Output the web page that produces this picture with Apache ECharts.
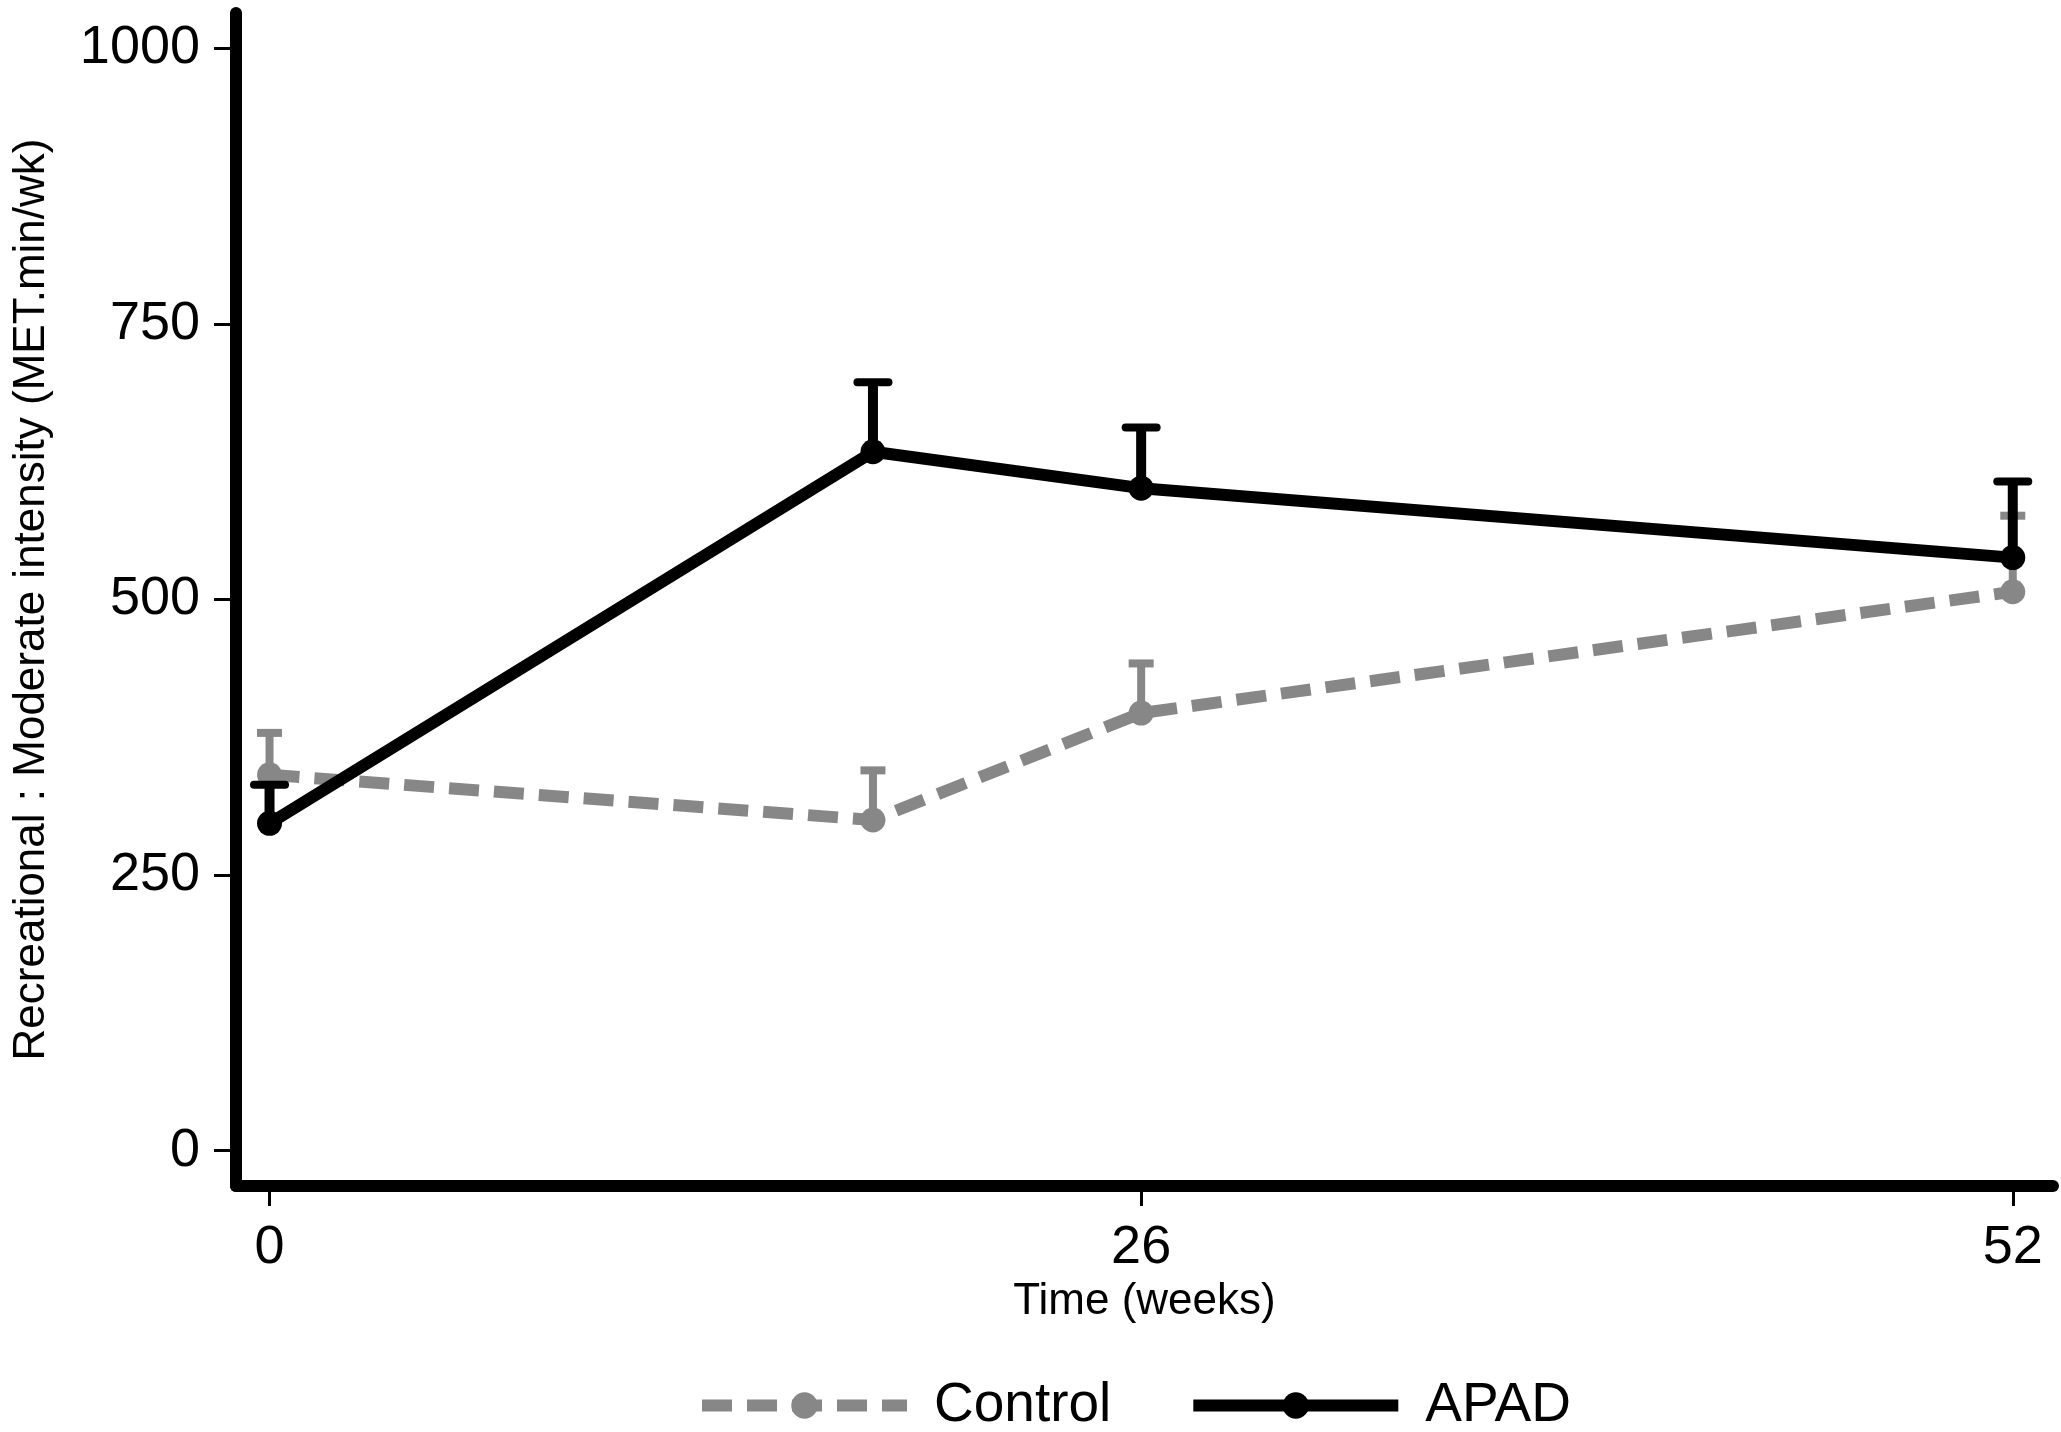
<!DOCTYPE html>
<html>
<head>
<meta charset="utf-8">
<script src="https://cdn.jsdelivr.net/npm/echarts@6/dist/echarts.min.js"></script>
<style>
html,body{margin:0;padding:0;background:#fff;}
#chart{width:2061px;height:1432px;}
</style>
</head>
<body>
<div id="chart"></div>
<script>
var weeks = [0, 18, 26, 52];
var apadMean = [297, 634, 601, 538];
var apadUpper = [332, 697, 656, 607];
var controlMean = [341, 300, 397, 507];
var controlUpper = [379, 345, 442, 576];
var xTicks = [0, 26, 52];
var yTicks = [0, 250, 500, 750, 1000];

var GRAY = '#878787';
var FONT = '"Liberation Sans", Arial, Helvetica, sans-serif';

function pairs(xs, ys) { return xs.map(function (x, i) { return [x, ys[i]]; }); }
function triples(xs, a, b) { return xs.map(function (x, i) { return [x, a[i], b[i]]; }); }

function errRender(color, stemW, capW, capH, capStyle) {
  return function (params, api) {
    var x = api.value(0);
    var lo = api.coord([x, api.value(1)]);
    var hi = api.coord([x, api.value(2)]);
    return {
      type: 'group',
      children: [
        { type: 'line', shape: { x1: lo[0], y1: lo[1], x2: hi[0], y2: hi[1] },
          style: { stroke: color, lineWidth: stemW } },
        { type: 'line', shape: { x1: hi[0] - capW / 2, y1: hi[1], x2: hi[0] + capW / 2, y2: hi[1] },
          style: { stroke: color, lineWidth: capH, lineCap: capStyle } }
      ]
    };
  };
}

var chart = echarts.init(document.getElementById('chart'));
chart.setOption({
  animation: false,
  backgroundColor: '#fff',
  textStyle: { fontFamily: FONT },
  grid: { left: 236, right: 8, top: 13, bottom: 246, containLabel: false },
  xAxis: {
    type: 'value', min: -1, max: 53.2,
    name: 'Time (weeks)', nameLocation: 'middle', nameGap: 91,
    nameTextStyle: { fontSize: 44, color: '#000', fontFamily: FONT },
    axisLine: { show: true, onZero: false, lineStyle: { color: '#000', width: 12 } },
    axisTick: { show: true, customValues: xTicks, length: 20, lineStyle: { color: '#000', width: 3 } },
    axisLabel: { customValues: xTicks, fontSize: 54, color: '#000', margin: 35, fontFamily: FONT,
      formatter: function (v) { return String(v); } },
    splitLine: { show: false }
  },
  yAxis: {
    type: 'value', min: -32, max: 1032,
    name: 'Recreational : Moderate intensity (MET.min/wk)', nameLocation: 'middle', nameGap: 182,
    nameTextStyle: { fontSize: 44, color: '#000', fontFamily: FONT },
    axisLine: { show: true, onZero: false, lineStyle: { color: '#000', width: 12 } },
    axisTick: { show: true, customValues: yTicks, length: 22, lineStyle: { color: '#000', width: 3 } },
    axisLabel: { customValues: yTicks, fontSize: 54, color: '#000', margin: 36, fontFamily: FONT,
      formatter: function (v) { return String(v); } },
    splitLine: { show: false }
  },
  legend: {
    bottom: -6, left: 691,
    itemWidth: 205, itemHeight: 33, itemGap: 76,
    textStyle: { fontSize: 55, color: '#000', fontFamily: FONT, padding: [0, 0, 0, 22] },
    data: [
      { name: 'Control', itemStyle: { color: GRAY }, lineStyle: { color: GRAY, width: 12, type: [30, 15] } },
      { name: 'APAD', itemStyle: { color: '#000' }, lineStyle: { color: '#000', width: 12, type: 'solid' } }
    ]
  },
  series: [
    {
      name: 'Control', type: 'line', data: pairs(weeks, controlMean), z: 2,
      symbol: 'circle', symbolSize: 25,
      lineStyle: { color: GRAY, width: 12, type: [30, 15] },
      itemStyle: { color: GRAY }
    },
    {
      name: 'Control', type: 'custom', data: triples(weeks, controlMean, controlUpper), z: 3,
      renderItem: errRender(GRAY, 8, 25, 8, 'butt'), encode: { x: 0, y: [1, 2] }, tooltip: { show: false }
    },
    {
      name: 'APAD', type: 'line', data: pairs(weeks, apadMean), z: 4,
      symbol: 'circle', symbolSize: 25,
      lineStyle: { color: '#000', width: 12, type: 'solid' },
      itemStyle: { color: '#000' }
    },
    {
      name: 'APAD', type: 'custom', data: triples(weeks, apadMean, apadUpper), z: 5,
      renderItem: errRender('#000', 10, 31, 8, 'round'), encode: { x: 0, y: [1, 2] }, tooltip: { show: false }
    }
  ]
});
</script>
</body>
</html>
